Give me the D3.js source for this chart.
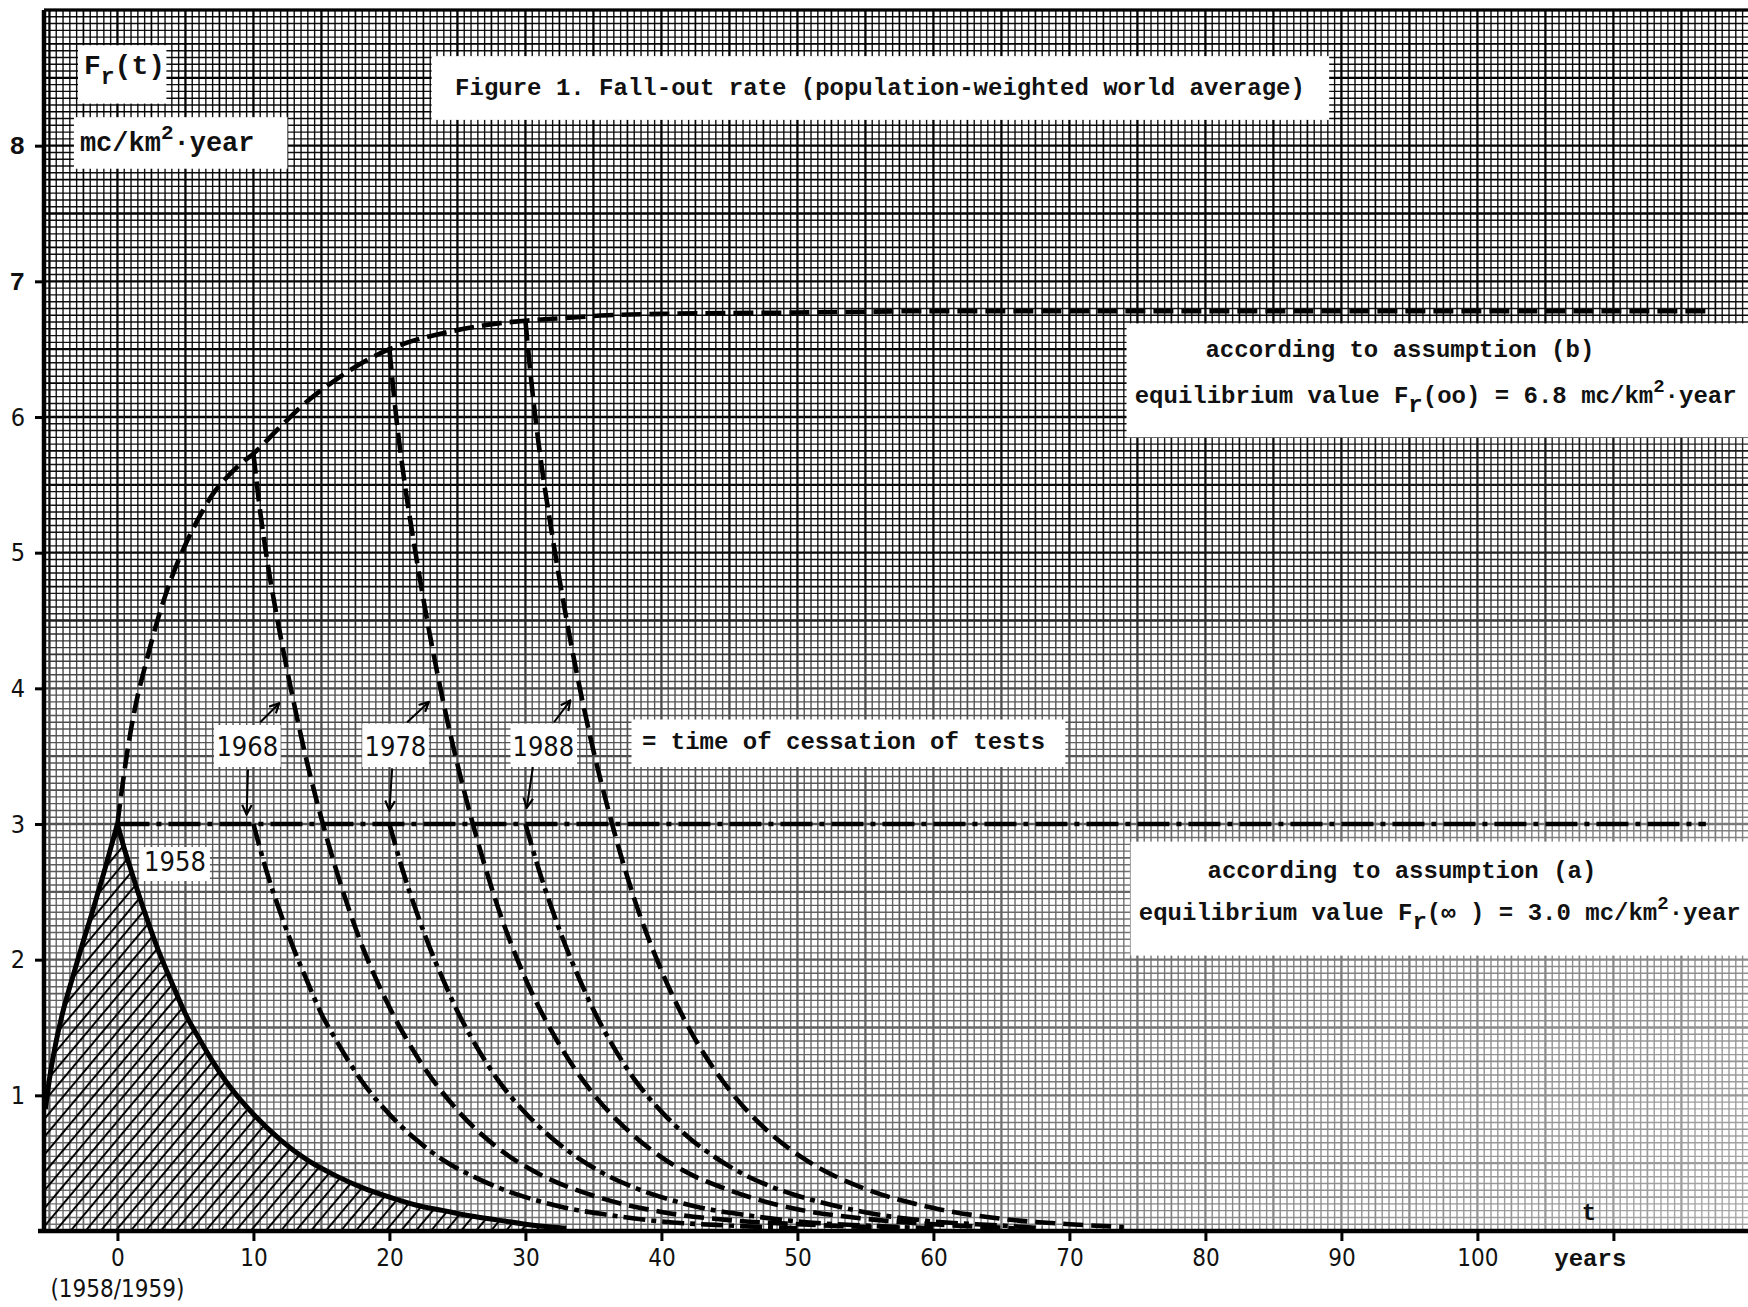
<!DOCTYPE html>
<html>
<head>
<meta charset="utf-8">
<script src="https://cdn.jsdelivr.net/npm/d3@7"></script>
<style>
  body { margin: 0; background: #fff; }
  svg { display: block; }
  .tw { font-family: "Liberation Mono", "DejaVu Sans Mono", monospace; font-weight: bold; }
  .lt { font-family: "DejaVu Sans", sans-serif; font-stretch: condensed; }
</style>
</head>
<body>
<svg width="1748" height="1307"></svg>
<script>
const svg = d3.select('svg');
const width = +svg.attr('width');
const height = +svg.attr('height');

// ticks
const xTicks = [0, 10, 20, 30, 40, 50, 60, 70, 80, 90, 100, 110];
const xTickLabels = ['0', '10', '20', '30', '40', '50', '60', '70', '80', '90', '100', ''];
const yTicks = [1, 2, 3, 4, 5, 6, 7, 8];
const yTickTypewriter = [false, false, false, false, false, false, true, true];

// 1958 cessation, solid curve (hatched)
const t1958 = [-5.3, -5, -4.5, -4, -3.5, -3, -2.5, -2, -1.5, -1, -0.5, 0, 0.5, 1, 1.5, 2, 3, 4, 5, 6, 7, 8, 10, 12, 14, 16, 18, 20, 22, 24, 26, 28, 30, 33];
const v1958 = [0.9, 1.12, 1.4, 1.62, 1.8, 1.97, 2.14, 2.3, 2.47, 2.64, 2.82, 3.0, 2.82, 2.66, 2.5, 2.35, 2.07, 1.83, 1.6, 1.42, 1.25, 1.1, 0.86, 0.67, 0.52, 0.41, 0.32, 0.25, 0.19, 0.15, 0.11, 0.08, 0.05, 0.02];

// assumption (b): build-up curve towards 6.8
const tRiseB = [0, 0.5, 1, 1.5, 2, 3, 4, 5, 6, 7, 8, 9, 10, 12, 14, 16, 18, 20, 22, 24, 26, 28, 30, 33, 36, 40, 50, 60, 80, 100, 117];
const vRiseB = [3.0, 3.38, 3.7, 3.95, 4.15, 4.52, 4.82, 5.06, 5.26, 5.43, 5.55, 5.65, 5.73, 5.93, 6.12, 6.27, 6.4, 6.5, 6.57, 6.62, 6.66, 6.69, 6.71, 6.73, 6.75, 6.76, 6.77, 6.78, 6.78, 6.78, 6.78];

// assumption (a): constant level 3.0
const tLevelA = [0, 116.8];
const vLevelA = [3.0, 3.0];

// decay after cessation, assumption (b)
const t1968b = [10, 10.5, 11, 12, 13, 14, 15, 16, 18, 20, 22, 25, 28, 31, 35, 40, 45, 50, 55, 58];
const v1968b = [5.73, 5.3, 4.95, 4.38, 3.88, 3.43, 3.04, 2.69, 2.1, 1.65, 1.29, 0.89, 0.61, 0.42, 0.26, 0.14, 0.08, 0.05, 0.03, 0.02];
const t1978b = [20, 20.5, 21, 22, 23, 24, 25, 26, 28, 30, 32, 35, 38, 41, 45, 50, 55, 60, 66];
const v1978b = [6.5, 6.0, 5.6, 4.95, 4.38, 3.88, 3.44, 3.05, 2.38, 1.86, 1.46, 1.01, 0.7, 0.48, 0.3, 0.16, 0.09, 0.05, 0.02];
const t1988b = [30, 30.5, 31, 32, 33, 34, 35, 36, 38, 40, 42, 45, 48, 51, 55, 60, 65, 70, 74];
const v1988b = [6.71, 6.2, 5.78, 5.11, 4.52, 4.0, 3.54, 3.14, 2.45, 1.92, 1.5, 1.04, 0.72, 0.5, 0.31, 0.17, 0.09, 0.05, 0.03];

// decay after cessation, assumption (a)
const t1968a = [10, 11, 12, 13, 14, 15, 16, 18, 20, 22, 24, 26, 28, 30, 33, 36, 40, 45, 50];
const v1968a = [3.0, 2.64, 2.34, 2.07, 1.83, 1.6, 1.42, 1.1, 0.86, 0.67, 0.52, 0.41, 0.32, 0.25, 0.17, 0.12, 0.07, 0.04, 0.02];
const t1978a = [20, 21, 22, 23, 24, 25, 26, 28, 30, 32, 34, 36, 38, 40, 43, 46, 50, 55, 60];
const v1978a = [3.0, 2.65, 2.35, 2.08, 1.84, 1.62, 1.43, 1.11, 0.87, 0.68, 0.53, 0.41, 0.32, 0.25, 0.17, 0.12, 0.07, 0.04, 0.02];
const t1988a = [30, 31, 32, 33, 34, 35, 36, 38, 40, 42, 44, 46, 48, 50, 53, 56, 60, 65, 68];
const v1988a = [3.0, 2.66, 2.36, 2.09, 1.85, 1.63, 1.44, 1.12, 0.88, 0.69, 0.54, 0.42, 0.33, 0.26, 0.18, 0.12, 0.07, 0.04, 0.02];

const x = d3.scaleLinear().domain([-5.4, 120]).range([44, 1749.4]);
const y = d3.scaleLinear().domain([0, 9]).range([1231, 10]);

const zip = (ts, vs) => ts.map((t, i) => [t, vs[i]]);

svg.append('rect').attr('width', width).attr('height', height).attr('fill', '#fff');

// ---- graph paper
const defs = svg.append('defs');
const vg = defs.append('linearGradient').attr('id', 'vfade')
  .attr('gradientUnits', 'userSpaceOnUse')
  .attr('x1', 0).attr('y1', y(9)).attr('x2', 0).attr('y2', y(0));
[[0, '#ffffff'], [0.47, '#f4f4f4'], [0.56, '#b4b4b4'], [1, '#959595']].forEach(s =>
  vg.append('stop').attr('offset', s[0]).attr('stop-color', s[1]));
const rg = defs.append('radialGradient').attr('id', 'rfade')
  .attr('gradientUnits', 'userSpaceOnUse')
  .attr('cx', width).attr('cy', y(0)).attr('r', 950);
rg.append('stop').attr('offset', 0).attr('stop-color', '#000').attr('stop-opacity', 0.4);
rg.append('stop').attr('offset', 1).attr('stop-color', '#000').attr('stop-opacity', 0);
const mask = defs.append('mask').attr('id', 'paperMask')
  .attr('maskUnits', 'userSpaceOnUse')
  .attr('x', 0).attr('y', 0).attr('width', width).attr('height', height);
mask.append('rect').attr('width', width).attr('height', height).attr('fill', 'url(#vfade)');
mask.append('rect').attr('width', width).attr('height', height).attr('fill', 'url(#rfade)');

const paper = svg.append('g').attr('mask', 'url(#paperMask)');
const vCols = d3.range(-10, 241);   // half-year steps
const hRows = d3.range(1, 181);     // 0.05 steps
const xl = x(-5.4), xr = width;
function gridClass(i, step5, step10) {
  return i % step10 === 0 ? 'heavy' : (i % step5 === 0 ? 'medium' : 'fine');
}
const gStyle = { fine: [1.4, 0.95], medium: [1.7, 1], heavy: [2.3, 1] };
vCols.forEach(i => {
  const c = gridClass(i, 5, 10);
  const px = x(i / 2);
  if (px > xr) return;
  paper.append('line')
    .attr('x1', px).attr('x2', px).attr('y1', y(9)).attr('y2', y(0))
    .attr('stroke', '#000').attr('stroke-width', gStyle[c][0]).attr('stroke-opacity', gStyle[c][1]);
});
hRows.forEach(j => {
  const c = gridClass(j, 5, 10);
  const py = y(j / 20);
  paper.append('line')
    .attr('x1', xl).attr('x2', xr).attr('y1', py).attr('y2', py)
    .attr('stroke', '#000').attr('stroke-width', gStyle[c][0]).attr('stroke-opacity', gStyle[c][1]);
});

// ---- hatch under the 1958 curve
const hatch = defs.append('pattern').attr('id', 'hatch')
  .attr('patternUnits', 'userSpaceOnUse')
  .attr('width', 11.5).attr('height', 11.5)
  .attr('patternTransform', 'rotate(40)');
hatch.append('line').attr('x1', 5.75).attr('x2', 5.75).attr('y1', 0).attr('y2', 11.5)
  .attr('stroke', '#000').attr('stroke-width', 2);

const area = d3.area().x(d => x(d[0])).y0(y(0)).y1(d => y(d[1])).curve(d3.curveMonotoneX);
const rise58 = zip(t1958, v1958).filter(d => d[0] <= 0);
const fall58 = zip(t1958, v1958).filter(d => d[0] >= 0);
[rise58, fall58].forEach(d =>
  svg.append('path').attr('d', area(d)).attr('fill', 'url(#hatch)'));

// ---- white label patches
const patches = [
  [-2.9, 3.6, 8.74, 8.31], [-3.2, 12.5, 8.21, 7.83], [23.1, 89.1, 8.66, 8.19],
  [74.2, 120, 6.69, 5.85], [74.5, 120, 2.87, 2.03], [37.8, 69.7, 3.77, 3.42],
  [7.1, 12.0, 3.73, 3.42], [18.0, 22.9, 3.74, 3.42], [28.9, 33.8, 3.74, 3.42],
  [1.6, 6.8, 2.83, 2.58]
];
svg.append('g').selectAll('rect').data(patches).join('rect')
  .attr('x', d => x(d[0])).attr('y', d => y(d[2]))
  .attr('width', d => x(d[1]) - x(d[0])).attr('height', d => y(d[3]) - y(d[2]))
  .attr('fill', '#fff');

// ---- axes
svg.append('line').attr('x1', x(-5.4)).attr('x2', x(-5.4)).attr('y1', y(9)).attr('y2', y(0) + 2)
  .attr('stroke', '#000').attr('stroke-width', 4.5);
svg.append('line').attr('x1', 38).attr('x2', width).attr('y1', y(0)).attr('y2', y(0))
  .attr('stroke', '#000').attr('stroke-width', 4.5);
svg.append('line').attr('x1', x(-5.4)).attr('x2', width).attr('y1', y(9)).attr('y2', y(9))
  .attr('stroke', '#000').attr('stroke-width', 3);

const xAxis = svg.append('g').attr('transform', `translate(0,${y(0)})`)
  .call(d3.axisBottom(x).tickValues(xTicks).tickSize(10).tickPadding(8)
    .tickFormat((d, i) => xTickLabels[i]));
xAxis.select('.domain').remove();
xAxis.selectAll('line').attr('stroke-width', 3);
xAxis.selectAll('text').attr('class', 'lt').attr('font-size', 24).attr('fill', '#111');

const yAxis = svg.append('g').attr('transform', `translate(${x(-5.4)},0)`)
  .call(d3.axisLeft(y).tickValues(yTicks).tickSize(9).tickPadding(10));
yAxis.select('.domain').remove();
yAxis.selectAll('line').attr('stroke-width', 3);
yAxis.selectAll('text')
  .attr('class', (d, i) => yTickTypewriter[i] ? 'tw' : 'lt')
  .attr('font-size', (d, i) => yTickTypewriter[i] ? 26 : 25)
  .attr('fill', '#111');

// ---- curves
const line = d3.line().x(d => x(d[0])).y(d => y(d[1])).curve(d3.curveMonotoneX);
const dashB = '20,8';
const dashA = '22,6,5,6';
const curves = [
  { d: rise58, dash: null, w: 5 },
  { d: fall58, dash: null, w: 5 },
  { d: zip(tRiseB, vRiseB), dash: dashB, w: 4.6 },
  { d: zip(tLevelA, vLevelA), dash: '32,7,5,7', w: 4.6 },
  { d: zip(t1968b, v1968b), dash: dashB, w: 4.6 },
  { d: zip(t1978b, v1978b), dash: dashB, w: 4.6 },
  { d: zip(t1988b, v1988b), dash: dashB, w: 4.6 },
  { d: zip(t1968a, v1968a), dash: dashA, w: 4.6 },
  { d: zip(t1978a, v1978a), dash: dashA, w: 4.6 },
  { d: zip(t1988a, v1988a), dash: dashA, w: 4.6 }
];
svg.append('g').selectAll('path').data(curves).join('path')
  .attr('d', c => line(c.d))
  .attr('fill', 'none').attr('stroke', '#000')
  .attr('stroke-width', c => c.w)
  .attr('stroke-dasharray', c => c.dash);

// ---- arrows pointing at the cessation years
defs.append('marker').attr('id', 'head')
  .attr('viewBox', '0 0 10 10').attr('refX', 9).attr('refY', 5)
  .attr('markerWidth', 12).attr('markerHeight', 12).attr('markerUnits', 'userSpaceOnUse')
  .attr('orient', 'auto')
  .append('path').attr('d', 'M1,1 L9,5 L1,9').attr('fill', 'none')
  .attr('stroke', '#000').attr('stroke-width', 1.8);
const arrows = [
  [10.5, 3.75, 11.9, 3.89], [9.6, 3.40, 9.5, 3.07],
  [21.3, 3.75, 22.9, 3.90], [20.2, 3.41, 20.0, 3.10],
  [32.1, 3.75, 33.3, 3.91], [30.55, 3.42, 30.1, 3.12]
];
svg.append('g').selectAll('line').data(arrows).join('line')
  .attr('x1', d => x(d[0])).attr('y1', d => y(d[1]))
  .attr('x2', d => x(d[2])).attr('y2', d => y(d[3]))
  .attr('stroke', '#000').attr('stroke-width', 2)
  .attr('marker-end', 'url(#head)');

// ---- year labels (lettering)
const yearLabels = ['1968', '1978', '1988', '1958'];
const yearPos = [[9.55, 3.50], [20.44, 3.50], [31.32, 3.50], [4.23, 2.65]];
svg.append('g').selectAll('text').data(yearLabels).join('text')
  .attr('class', 'lt').attr('font-size', 27).attr('fill', '#111')
  .attr('text-anchor', 'middle')
  .attr('x', (d, i) => x(yearPos[i][0])).attr('y', (d, i) => y(yearPos[i][1]))
  .text(d => d);

// ---- typed texts
function typed(tx, vy, anchor, size) {
  return svg.append('text').attr('class', 'tw').attr('font-size', size || 24)
    .attr('fill', '#111').attr('text-anchor', anchor)
    .attr('x', x(tx)).attr('y', y(vy));
}
typed(56.07, 8.373, 'middle').text('Figure 1. Fall-out rate (population-weighted world average)');

const fr = typed(-2.46, 8.53, 'start', 28);
fr.append('tspan').text('F');
fr.append('tspan').attr('dy', 10).attr('font-size', 23).text('r');
fr.append('tspan').attr('dy', -10).text('(t)');

const unit = typed(-2.76, 7.96, 'start', 27);
unit.append('tspan').text('mc/km');
unit.append('tspan').attr('dy', -12).attr('font-size', 21).text('2');
unit.append('tspan').attr('dy', 12).text('·year');

typed(94.3, 6.44, 'middle').text('according to assumption (b)');
const eqB = typed(74.8, 6.10, 'start');
eqB.append('tspan').text('equilibrium value F');
eqB.append('tspan').attr('dy', 9).text('r');
eqB.append('tspan').attr('dy', -9).text('(oo) = 6.8 mc/km');
eqB.append('tspan').attr('dy', -11).attr('font-size', 19).text('2');
eqB.append('tspan').attr('dy', 11).text('·year');

typed(94.45, 2.60, 'middle').text('according to assumption (a)');
const eqA = typed(75.1, 2.29, 'start');
eqA.append('tspan').text('equilibrium value F');
eqA.append('tspan').attr('dy', 9).text('r');
eqA.append('tspan').attr('dy', -9).text('(\u221e ) = 3.0 mc/km');
eqA.append('tspan').attr('dy', -11).attr('font-size', 19).text('2');
eqA.append('tspan').attr('dy', 11).text('·year');

typed(38.57, 3.553, 'start').text('= time of cessation of tests');
typed(108.2, 0.08, 'middle').text('t');

svg.append('text').attr('class', 'tw').attr('font-size', 24).attr('fill', '#111')
  .attr('text-anchor', 'middle').attr('x', x(108.3)).attr('y', y(0) + 35).text('years');
svg.append('text').attr('class', 'lt').attr('font-size', 24).attr('fill', '#111')
  .attr('text-anchor', 'middle').attr('x', x(0)).attr('y', y(0) + 66).text('(1958/1959)');
</script>
</body>
</html>
